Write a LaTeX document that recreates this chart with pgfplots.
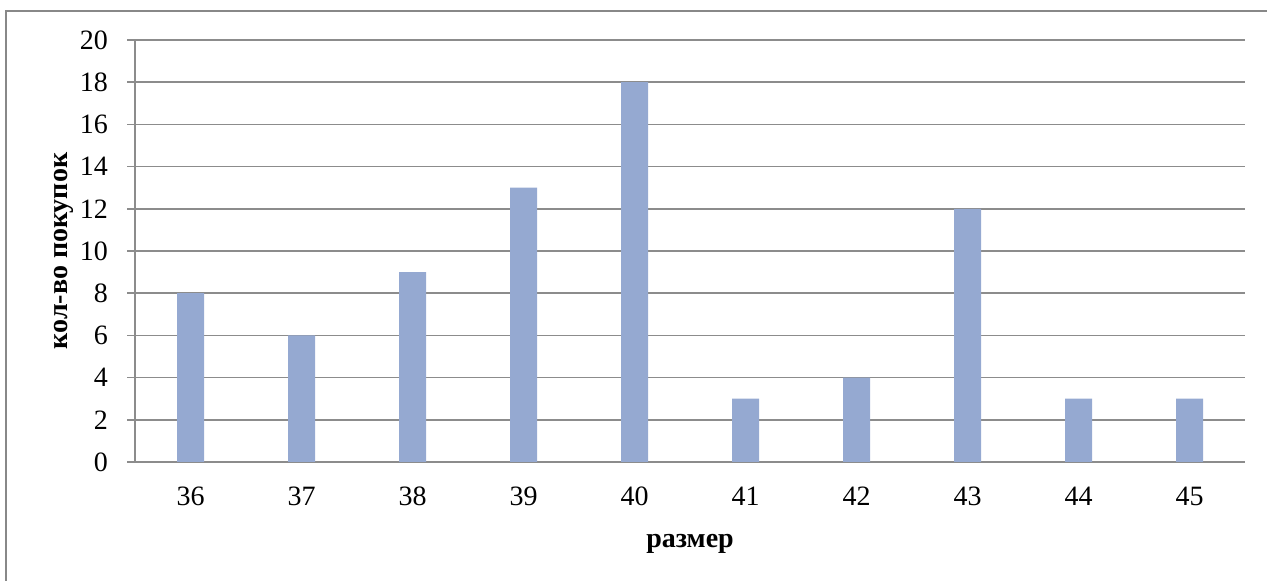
\documentclass[border=0pt]{standalone}
\usepackage{fontspec}
\setmainfont{Liberation Serif}
\usepackage{pgfplots}
\pgfplotsset{compat=1.18}
\usetikzlibrary{calc}
\definecolor{barblue}{HTML}{95A9D1}
\definecolor{gridgray}{HTML}{8C8C8C}
\definecolor{framegray}{HTML}{888888}
\begin{document}
\begin{tikzpicture}
\begin{axis}[
  name=ax,
  scale only axis, width=555pt, height=211pt,
  xmin=-0.5, xmax=9.5, ymin=0, ymax=20,
  ytick={0,2,...,20},
  xtick={0,...,9},
  xticklabels={36,37,38,39,40,41,42,43,44,45},
  axis x line*=bottom, axis y line*=left,
  axis line style={gridgray, line width=0.8pt, -},
  ymajorgrids, major grid style={gridgray, line width=0.8pt},
  x tick style={draw=none},
  y tick style={gridgray, line width=0.8pt},
  ytick align=outside, major tick length=4pt,
  /pgf/number format/assume math mode=true,
  ticklabel style={font=\fontsize{14}{16}\selectfont},
  yticklabel style={anchor=east, xshift=-6pt},
  xticklabel style={anchor=center, yshift=-17pt},
  xlabel={\textbf{размер}}, ylabel={\textbf{кол-во покупок}},
  label style={font=\fontsize{14}{16}\selectfont},
  xlabel style={at={(axis description cs:0.5,-0.193)}, anchor=center},
  ylabel style={at={(axis description cs:-0.064,0.5)}, anchor=center},
  clip=false,
]
\addplot[ybar, bar width=13.5pt, fill=barblue, draw=none] coordinates {
(0,8) (1,6) (2,9) (3,13) (4,18) (5,3) (6,4) (7,12) (8,3) (9,3)};
\end{axis}
\pgfresetboundingbox
\coordinate (TL) at ($(ax.south west)+(-67.5pt,231pt)$);
\path[use as bounding box] (TL) rectangle ($(TL)+(633.5pt,-290.5pt)$);
\draw[framegray, line width=0.8pt] ($(TL)+(2.9pt,-291pt)$) -- ($(TL)+(2.9pt,-5.4pt)$) -- ($(TL)+(634pt,-5.4pt)$);
\end{tikzpicture}
\end{document}
